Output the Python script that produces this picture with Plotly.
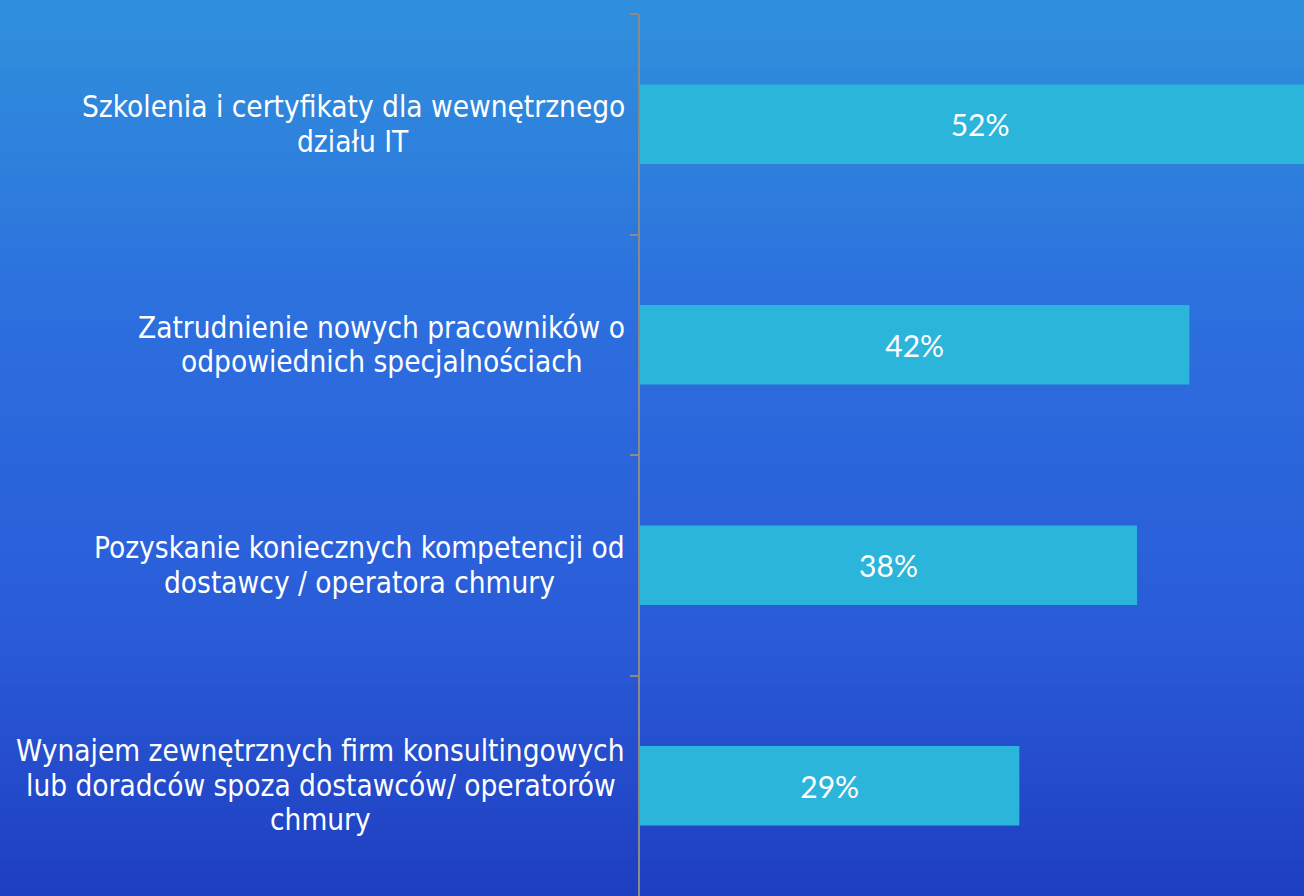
import plotly.graph_objects as go

# dane
kategorie = [
    "Szkolenia i certyfikaty dla wewnętrznego<br>działu IT",
    "Zatrudnienie nowych pracowników o<br>odpowiednich specjalnościach",
    "Pozyskanie koniecznych kompetencji od<br>dostawcy / operatora chmury",
    "Wynajem zewnętrznych firm konsultingowych<br>lub doradców spoza dostawców/ operatorów<br>chmury",
]
wartosci = [52, 42, 38, 29]

fig = go.Figure()
fig.add_trace(go.Bar(
    x=wartosci,
    y=kategorie,
    orientation="h",
    width=0.36,
    marker=dict(color="#2bb5db", line=dict(width=0)),
    texttemplate="%{x}%",
    textposition="inside",
    insidetextanchor="middle",
    textfont=dict(family="Lato", size=30, color="white"),
    hoverinfo="skip",
))

# tlo - gradient z paskow
stops = [(0.0, (47, 144, 220)), (0.35, (44, 110, 222)), (0.7, (42, 92, 216)), (1.0, (30, 62, 192))]
def kolor(t):
    for (t0, c0), (t1, c1) in zip(stops[:-1], stops[1:]):
        if t <= t1:
            f = (t - t0) / (t1 - t0)
            return "rgb(%d,%d,%d)" % tuple(round(a + (b - a) * f) for a, b in zip(c0, c1))
    return "rgb(%d,%d,%d)" % stops[-1][1]

n = 80
shapes = []
for i in range(n):
    y1 = 1 - i / n
    y0 = 1 - (i + 1) / n
    shapes.append(dict(type="rect", xref="paper", yref="paper", x0=-1, x1=1.1,
                       y0=y0 - 0.002, y1=y1 + 0.002 if i else 1.1,
                       fillcolor=kolor((i + 0.5) / n), line=dict(width=0), layer="below"))
shapes[-1]["y0"] = -0.1

# szerokosc tekstu (do wysrodkowania linii pod najdluzsza)
fs = 29.5
pitch = 34.5
try:
    from PIL import ImageFont
    _font = ImageFont.truetype("DejaVuSansCondensed.ttf", fs)
    def szer(s):
        return _font.getlength(s)
except Exception:
    def szer(s):
        return len(s) * 0.5 * fs

# etykiety: kazda linia osobno, linie wysrodkowane wzgledem bloku
annotations = []
for k in kategorie:
    linie = k.split("<br>")
    nl = len(linie)
    w = max(szer(l) for l in linie)
    for i, l in enumerate(linie):
        annotations.append(dict(
            xref="paper", yref="y", x=0, y=k, xanchor="center", yanchor="middle",
            xshift=-15 - w / 2, yshift=-(i - (nl - 1) / 2) * pitch,
            text=l, showarrow=False, borderpad=0,
            font=dict(family="DejaVu Sans Condensed", size=fs, color="white"),
        ))

fig.update_layout(
    width=1304, height=896,
    margin=dict(l=640, r=0, t=14, b=0),
    paper_bgcolor="#2c62dc",
    plot_bgcolor="rgba(0,0,0,0)",
    showlegend=False,
    bargap=0.64,
    shapes=shapes,
    annotations=annotations,
    xaxis=dict(range=[0, 50.76], visible=False),
    yaxis=dict(
        autorange="reversed",
        showticklabels=False,
        showline=True, linecolor="#8a8a8a", linewidth=2,
        ticks="outside", tickson="boundaries", ticklen=8, tickcolor="#8a8a8a", tickwidth=2,
        showgrid=False, zeroline=False,
    ),
)

fig.write_html("out.html", config={"displayModeBar": False},
               post_script="document.body.style.margin='0';")
